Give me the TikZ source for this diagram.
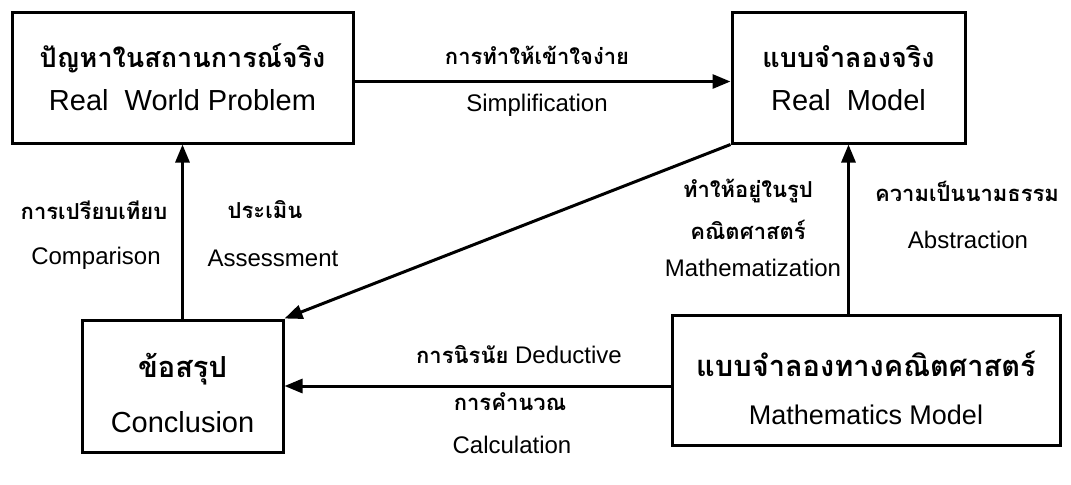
\documentclass[tikz,border=0pt]{standalone}
\usepackage{fontspec}
\setmainfont{Liberation Sans}
\newfontfamily\thai[Script=Thai]{Loma}
\newcommand\thaib{\thai\bfseries}
\usetikzlibrary{arrows.meta}

\begin{document}
\begin{tikzpicture}[x=0.5pt,y=-0.5pt,
  box/.style={draw,line width=1.5pt,align=center,inner sep=0pt,text depth=0pt},
  lbl/.style={align=center,inner sep=0pt,font=\fontsize{12}{14}\selectfont},
  arr/.style={line width=1.5pt,-{Triangle[length=9pt,width=7pt]}}]
\useasboundingbox (0,0) rectangle (1071,484);
\node[box,minimum width=170.5pt,minimum height=65.5pt,text height=33pt,font=\fontsize{14.5}{21.5}\selectfont] (rwp) at (182.5,77.5)
  {{\fontsize{13.5}{21.5}\thaib ปัญหาในสถานการณ์จริง}\\Real\ \ World Problem};
\node[box,minimum width=116.5pt,minimum height=65.5pt,text height=33pt,font=\fontsize{14.5}{21.5}\selectfont] (rm) at (848.5,77.5)
  {{\fontsize{13.5}{21.5}\thaib แบบจำลองจริง}\\Real\ \ Model};
\node[box,minimum width=100.5pt,minimum height=66pt,text height=46pt,font=\fontsize{14.5}{27.5}\selectfont] (con) at (182.5,386)
  {{\fontsize{14.5}{27.5}\thaib ข้อสรุป}\\Conclusion};
\node[box,minimum width=194pt,minimum height=65pt,text height=44.7pt,font=\fontsize{13.5}{24}\selectfont] (mm) at (866,380)
  {{\fontsize{14.5}{24}\thaib แบบจำลองทางคณิตศาสตร์}\\Mathematics Model};
\node[lbl] (simT) at (537,55) {\thaib\fontsize{11}{14}\selectfont การทำให้เข้าใจง่าย};
\node[lbl] (simE) at (537,105) {Simplification};
\node[lbl] (cmpT) at (94,210) {\thaib\fontsize{11}{14}\selectfont การเปรียบเทียบ};
\node[lbl] (cmpE) at (96,258) {Comparison};
\node[lbl] (assT) at (265,210) {\thaib\fontsize{11}{14}\selectfont ประเมิน};
\node[lbl] (assE) at (273,258) {Assessment};
\node[lbl] (matT1) at (748,191) {\thaib\fontsize{11}{14}\selectfont ทำให้อยู่ในรูป};
\node[lbl] (matT2) at (748,230) {\thaib\fontsize{11}{14}\selectfont คณิตศาสตร์};
\node[lbl] (matE) at (753,268) {Mathematization};
\node[lbl] (absT) at (967,191) {\thaib\fontsize{11}{14}\selectfont ความเป็นนามธรรม};
\node[lbl] (absE) at (968,240) {Abstraction};
\node[lbl] (dedL) at (519,355) {{\thaib\fontsize{11}{14}\selectfont การนิรนัย} Deductive};
\node[lbl] (calT) at (510,402) {\thaib\fontsize{11}{14}\selectfont การคำนวณ};
\node[lbl] (calE) at (512,445) {Calculation};
% connectors
\draw[arr] ([yshift=-2pt]rwp.east) -- ([yshift=-2pt]rwp.east -| rm.west);
\draw[arr] (con.north) -- (rwp.south);
\draw[arr] (rm.south west) -- (con.north east);
\draw[arr] (rm.south |- mm.north) -- (rm.south);
\draw[arr] (con.east -| mm.west) -- (con.east);
\end{tikzpicture}
\end{document}
